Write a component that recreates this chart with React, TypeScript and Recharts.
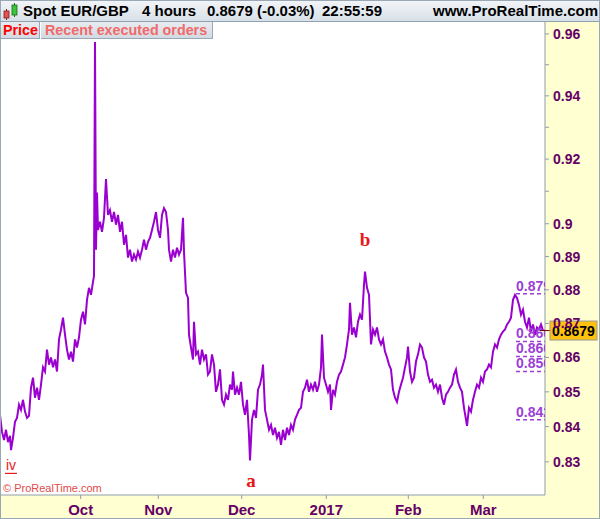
import React from 'react';
import { ComposedChart, Line, XAxis, YAxis, ReferenceLine, ReferenceDot } from 'recharts';

// time index (chart position of each sampled 4h bar) and EUR/GBP price
const times = [
  0, 2, 4, 6, 8, 10, 11, 13, 15, 17, 19, 21, 23, 25, 27, 29, 31, 33, 35, 37,
  39, 41, 43, 45, 47, 49, 51, 53, 55, 57, 59, 61, 63, 65, 67, 69, 71, 73, 75, 77,
  79, 81, 83, 85, 87, 89, 91, 93, 94, 95, 96, 97, 98, 100, 102, 104, 106, 108, 110, 112,
  114, 116, 118, 120, 122, 124, 126, 128, 130, 132, 134, 136, 138, 140, 142, 144, 146, 148, 150, 152,
  154, 156, 158, 160, 162, 164, 166, 168, 169, 171, 173, 175, 177, 179, 181, 183, 184, 186, 188, 189,
  191, 193, 194, 196, 198, 200, 202, 204, 206, 208, 210, 212, 214, 216, 218, 220, 222, 224, 226, 228,
  230, 232, 233, 235, 237, 239, 241, 243, 245, 247, 249, 250, 252, 254, 256, 258, 260, 262, 263, 265,
  267, 269, 271, 273, 275, 277, 279, 281, 283, 285, 287, 289, 291, 293, 295, 297, 299, 301, 303, 305,
  307, 309, 311, 313, 315, 317, 319, 321, 322, 324, 326, 328, 330, 331, 333, 335, 337, 339, 341, 343,
  345, 347, 349, 350, 352, 354, 356, 358, 360, 362, 364, 365, 367, 369, 371, 373, 375, 377, 379, 381,
  383, 385, 387, 389, 391, 393, 395, 397, 399, 401, 403, 405, 407, 408, 410, 412, 414, 416, 418, 420,
  422, 424, 426, 428, 430, 432, 434, 436, 438, 440, 442, 444, 446, 448, 450, 452, 454, 456, 458, 460,
  462, 464, 466, 467, 469, 471, 473, 475, 477, 479, 481, 483, 485, 487, 489, 491, 493, 495, 497, 499,
  501, 503, 505, 507, 509, 511, 513, 515, 517, 519, 521, 523, 525, 527, 529, 531, 533, 535, 537, 539,
  541, 543,
];

const prices = [
  0.8434, 0.8385, 0.8362, 0.8391, 0.8356, 0.8374, 0.8333, 0.8368, 0.8414, 0.8425, 0.8463, 0.8448, 0.8477, 0.8443, 0.8425, 0.8431, 0.8512, 0.8541, 0.8483, 0.8512,
  0.8477, 0.8521, 0.8571, 0.8559, 0.8623, 0.8579, 0.8600, 0.8571, 0.8594, 0.8559, 0.8653, 0.8682, 0.8717, 0.8667, 0.8623, 0.8594, 0.8617, 0.8588, 0.8653, 0.8629,
  0.8659, 0.8711, 0.8735, 0.8697, 0.8770, 0.8806, 0.8785, 0.8824, 0.8842, 0.9574, 0.8921, 0.9096, 0.8981, 0.9006, 0.8975, 0.9018, 0.9138, 0.9027, 0.9042, 0.9006,
  0.9036, 0.8997, 0.9027, 0.8975, 0.9006, 0.8936, 0.8966, 0.8897, 0.8921, 0.8885, 0.8906, 0.8891, 0.8915, 0.8897, 0.8921, 0.8951, 0.8921, 0.8945, 0.8957, 0.8981,
  0.9006, 0.9036, 0.8981, 0.8957, 0.9027, 0.9048, 0.9036, 0.8981, 0.8921, 0.8885, 0.8921, 0.8897, 0.8927, 0.8906, 0.8921, 0.9018, 0.8915, 0.8791, 0.8776, 0.8667,
  0.8629, 0.8594, 0.8705, 0.8609, 0.8617, 0.8579, 0.8623, 0.8594, 0.8609, 0.8550, 0.8559, 0.8609, 0.8579, 0.8500, 0.8521, 0.8565, 0.8477, 0.8463, 0.8492, 0.8477,
  0.8521, 0.8506, 0.8559, 0.8492, 0.8512, 0.8492, 0.8529, 0.8463, 0.8434, 0.8477, 0.8376, 0.8304, 0.8420, 0.8448, 0.8425, 0.8506, 0.8521, 0.8550, 0.8579, 0.8448,
  0.8420, 0.8391, 0.8405, 0.8376, 0.8397, 0.8368, 0.8385, 0.8348, 0.8391, 0.8362, 0.8397, 0.8376, 0.8405, 0.8391, 0.8420, 0.8434, 0.8448, 0.8454, 0.8500, 0.8512,
  0.8535, 0.8500, 0.8521, 0.8506, 0.8529, 0.8500, 0.8521, 0.8571, 0.8667, 0.8541, 0.8521, 0.8500, 0.8521, 0.8448, 0.8506, 0.8492, 0.8529, 0.8550, 0.8559, 0.8579,
  0.8600, 0.8638, 0.8682, 0.8761, 0.8667, 0.8688, 0.8659, 0.8705, 0.8726, 0.8711, 0.8815, 0.8855, 0.8806, 0.8785, 0.8638, 0.8682, 0.8667, 0.8688, 0.8653, 0.8638,
  0.8653, 0.8617, 0.8600, 0.8579, 0.8565, 0.8506, 0.8483, 0.8471, 0.8500, 0.8521, 0.8541, 0.8571, 0.8600, 0.8632, 0.8559, 0.8529, 0.8541, 0.8588, 0.8609, 0.8638,
  0.8629, 0.8600, 0.8588, 0.8550, 0.8529, 0.8535, 0.8512, 0.8521, 0.8500, 0.8521, 0.8483, 0.8463, 0.8492, 0.8500, 0.8512, 0.8521, 0.8550, 0.8565, 0.8529, 0.8512,
  0.8500, 0.8454, 0.8420, 0.8402, 0.8454, 0.8443, 0.8477, 0.8500, 0.8521, 0.8512, 0.8541, 0.8529, 0.8559, 0.8565, 0.8579, 0.8571, 0.8617, 0.8638, 0.8629, 0.8653,
  0.8667, 0.8676, 0.8682, 0.8697, 0.8705, 0.8717, 0.8770, 0.8785, 0.8776, 0.8755, 0.8726, 0.8741, 0.8705, 0.8688, 0.8717, 0.8676, 0.8697, 0.8667, 0.8688, 0.8682,
  0.8697, 0.8679,
];

const monthTicks = [80.7, 158.3, 241.7, 326.3, 408.3, 483.3];
const monthLabels = ['Oct', 'Nov', 'Dec', '2017', 'Feb', 'Mar'];

const priceTicks = [0.83, 0.84, 0.85, 0.86, 0.87, 0.88, 0.89, 0.9, 0.91, 0.92, 0.93, 0.94, 0.95, 0.96];
const minorTicks = [0.91, 0.93, 0.95];

const levelPrices = [0.8788, 0.8647, 0.8603, 0.8559, 0.842];
const levelLabels = ['0.879', '0.866', '0.860', '0.856', '0.842'];
const levelStart = 516;
const levelEnd = 545;

const waveLabels = ['iv', 'a', 'b'];
const waveTimes = [11, 251, 365];
const wavePrices = [0.829, 0.8244, 0.8948];

const lastPrice = 0.8679;

const data = times.map((t, i) => ({ t, p: prices[i] }));

const PURPLE = '#9A00D0';
const LEVEL = '#9B3FD6';
const AXIS_TXT = '#660066';
const GREY = '#8E9DAC';
const FONT = 'Arial, "Liberation Sans", sans-serif';

export default function App() {
  return (
    <div style={{ position: 'absolute', left: 0, top: 0, width: 600, height: 519, overflow: 'hidden', background: '#fff', fontFamily: FONT }}>
      {/* axis backgrounds */}
      <div style={{ position: 'absolute', left: 545, top: 22, width: 55, height: 497, background: '#FFFFD2' }} />
      <div style={{ position: 'absolute', left: 0, top: 495, width: 600, height: 24, background: '#FFFFD2' }} />

      <div style={{ position: 'absolute', left: 0, top: 0 }}>
        <ComposedChart width={600} height={519} data={data} margin={{ top: 22, right: 0, bottom: 0, left: 0 }}>
          <XAxis
            dataKey="t"
            type="number"
            domain={[0, 545]}
            allowDataOverflow
            ticks={monthTicks}
            interval={0}
            height={24}
            tickSize={4}
            tickMargin={5}
            axisLine={{ stroke: GREY }}
            tickLine={{ stroke: GREY }}
            tick={{ fill: AXIS_TXT, fontSize: 15, fontWeight: 'bold', fontFamily: FONT }}
            tickFormatter={(v: number) => monthLabels[monthTicks.indexOf(v)] ?? ''}
          />
          <YAxis
            orientation="right"
            type="number"
            scale="log"
            domain={[0.8207, 0.9639]}
            allowDataOverflow
            ticks={priceTicks}
            interval={0}
            width={55}
            tickSize={4}
            tickMargin={4}
            axisLine={{ stroke: GREY }}
            tickLine={{ stroke: GREY }}
            tick={{ fill: AXIS_TXT, fontSize: 14, fontWeight: 'bold', fontFamily: FONT, textAnchor: 'start' }}
            tickFormatter={(v: number) => (minorTicks.includes(v) ? '' : String(v))}
          />
          <Line type="linear" dataKey="p" stroke={PURPLE} strokeWidth={2} dot={false} isAnimationActive={false} />
          {levelPrices.map((lp, i) => (
            <ReferenceLine
              key={'l' + i}
              segment={[{ x: levelStart, y: lp }, { x: levelEnd, y: lp }]}
              stroke={LEVEL}
              strokeWidth={1.5}
              strokeDasharray="4 3"
            />
          ))}
          {levelPrices.map((lp, i) => (
            <ReferenceDot
              key={'t' + i}
              x={levelStart}
              y={lp}
              r={0}
              ifOverflow="visible"
              shape={(p: any) => (
                <svg x={0} y={0} width={545} height={519} overflow="hidden">
                  <text x={p.cx} y={p.cy - 3} fill={LEVEL} fontSize={14} fontWeight="bold" fontFamily={FONT}>
                    {levelLabels[i]}
                  </text>
                </svg>
              )}
            />
          ))}
          {waveLabels.map((w, i) => (
            <ReferenceDot
              key={'w' + i}
              x={waveTimes[i]}
              y={wavePrices[i]}
              r={0}
              ifOverflow="visible"
              shape={(p: any) =>
                w === 'iv' ? (
                  <g>
                    <text x={p.cx} y={p.cy + 5} textAnchor="middle" fill="#E81818" fontSize={14} fontFamily={FONT}>
                      {w}
                    </text>
                    <line x1={p.cx - 6} x2={p.cx + 6} y1={p.cy + 8} y2={p.cy + 8} stroke="#E81818" strokeWidth={1.2} />
                  </g>
                ) : (
                  <text x={p.cx} y={p.cy + 5} textAnchor="middle" fill="#E81818" fontSize={19} fontWeight="bold" fontFamily='"Liberation Serif", "Times New Roman", serif'>
                    {w}
                  </text>
                )
              }
            />
          ))}
          <ReferenceDot
            x={545}
            y={lastPrice}
            r={0}
            ifOverflow="visible"
            shape={(p: any) => (
              <g>
                <line x1={p.cx - 5} x2={p.cx + 5} y1={p.cy} y2={p.cy} stroke="#7A0000" strokeWidth={1} />
                <rect x={p.cx + 5} y={p.cy - 9.5} width={47} height={19} fill="#FFC20E" stroke="#9A9A9A" strokeWidth={1} />
                <text x={p.cx + 28.5} y={p.cy + 5} textAnchor="middle" fill="#000" fontSize={14} fontWeight="bold" fontFamily={FONT}>
                  {lastPrice.toFixed(4)}
                </text>
              </g>
            )}
          />
        </ComposedChart>
      </div>

      {/* copyright */}
      <div style={{ position: 'absolute', left: 3, top: 482, fontSize: 11, color: '#E44A4A', whiteSpace: 'nowrap', lineHeight: '13px' }}>
        © ProRealTime.com
      </div>

      {/* header bar */}
      <div style={{ position: 'absolute', left: 0, top: 0, width: 600, height: 21, background: 'linear-gradient(#F2F5F8, #D8E0E8)', borderBottom: '1px solid #8FA0B0', fontWeight: 'bold', fontSize: 15, color: '#000', whiteSpace: 'nowrap' }}>
        <svg width={20} height={21} style={{ position: 'absolute', left: 2, top: 0 }}>
          <line x1={4.5} x2={4.5} y1={9} y2={20} stroke="#7A1F1F" />
          <rect x={2} y={11} width={5} height={7} fill="#E85050" stroke="#7A1F1F" strokeWidth={0.8} />
          <line x1={12.5} x2={12.5} y1={3} y2={17} stroke="#1F6A1F" />
          <rect x={10} y={5} width={5} height={10} fill="#3CC43C" stroke="#1F6A1F" strokeWidth={0.8} />
        </svg>
        <span style={{ position: 'absolute', left: 23, top: 2, lineHeight: '18px' }}>Spot EUR/GBP</span>
        <span style={{ position: 'absolute', left: 142, top: 2, lineHeight: '18px' }}>4 hours</span>
        <span style={{ position: 'absolute', left: 207, top: 2, lineHeight: '18px' }}>0.8679 (-0.03%)</span>
        <span style={{ position: 'absolute', left: 322, top: 2, lineHeight: '18px' }}>22:55:59</span>
        <span style={{ position: 'absolute', left: 433, top: 2, lineHeight: '18px' }}>www.ProRealTime.com</span>
      </div>

      {/* tabs */}
      <div style={{ position: 'absolute', left: 0, top: 22, width: 40, height: 17, background: 'linear-gradient(#E8ECF0, #D2DAE2)', borderRight: '1px solid #9AA8B6', borderBottom: '1px solid #9AA8B6', color: '#FF0000', fontWeight: 'bold', fontSize: 14.3, lineHeight: '17px', paddingLeft: 3, boxSizing: 'border-box', whiteSpace: 'nowrap' }}>
        Price
      </div>
      <div style={{ position: 'absolute', left: 41, top: 22, width: 172, height: 17, background: 'linear-gradient(#E8ECF0, #D2DAE2)', borderRight: '1px solid #9AA8B6', borderBottom: '1px solid #9AA8B6', color: '#F06A6A', fontWeight: 'bold', fontSize: 14.3, lineHeight: '17px', paddingLeft: 4, boxSizing: 'border-box', whiteSpace: 'nowrap' }}>
        Recent executed orders
      </div>

      {/* outer border */}
      <div style={{ position: 'absolute', left: 0, top: 0, width: 600, height: 519, border: '1px solid #9AA8B6', boxSizing: 'border-box', pointerEvents: 'none' }} />
    </div>
  );
}
